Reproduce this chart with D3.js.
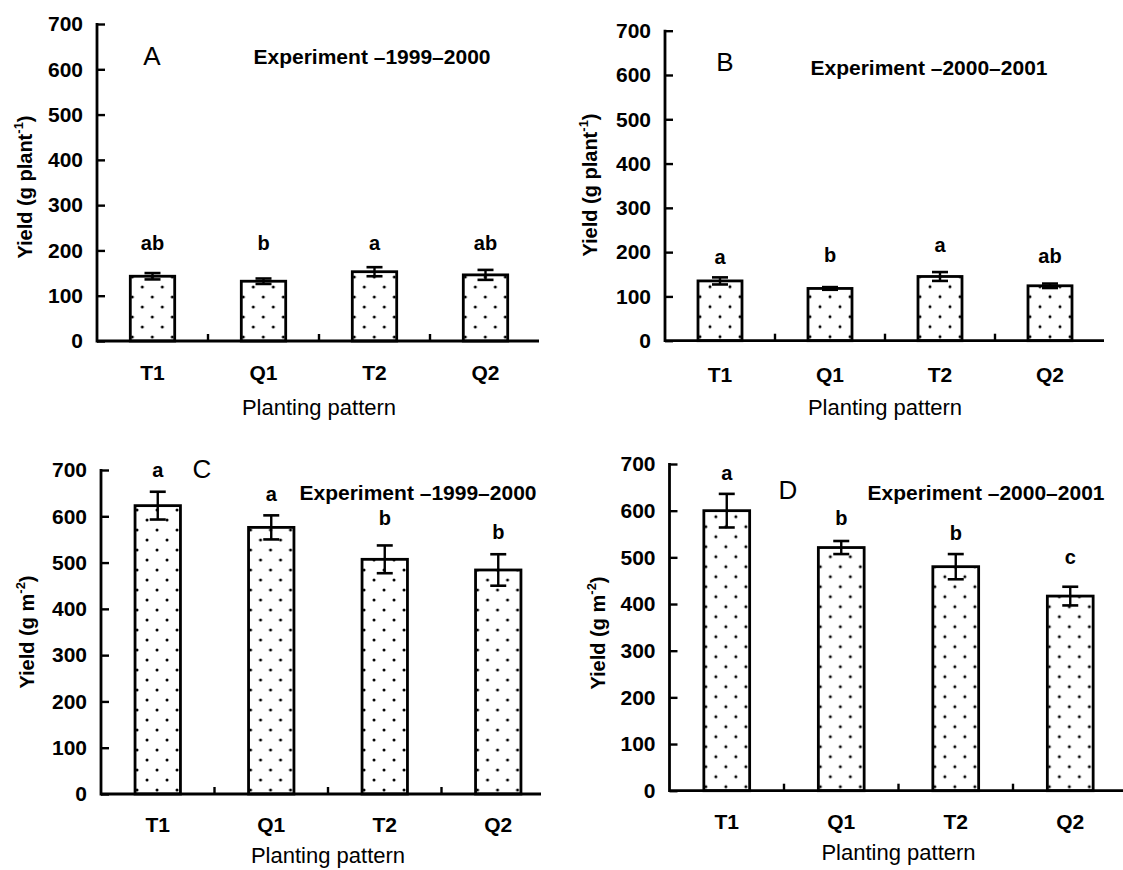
<!DOCTYPE html>
<html>
<head>
<meta charset="utf-8">
<script src="https://cdn.jsdelivr.net/npm/d3@7"></script>
<style>
  html, body { margin: 0; padding: 0; background: #fff; }
  svg { display: block; }
  text { font-family: "Liberation Sans", Arial, sans-serif; fill: #000; }
</style>
</head>
<body>
<svg id="chart" width="1123" height="870"></svg>
<script>
// ---------------- DATA ----------------
const categories = ["T1", "Q1", "T2", "Q2"];
const yTickValues = [0, 100, 200, 300, 400, 500, 600, 700];
const yDomain = [0, 700];

const meansA = [143, 132, 153, 146];
const errA = [7, 6, 10, 11];
const lettersA = ["ab", "b", "a", "ab"];
const letterPosA = [216, 216, 216, 216];

const meansB = [135, 118, 145, 124];
const errB = [8, 3, 10, 5];
const lettersB = ["a", "b", "a", "ab"];
const letterPosB = [190, 193, 216, 191];

const meansC = [623, 576, 507, 484];
const errC = [30, 26, 30, 34];
const lettersC = ["a", "a", "b", "b"];
const letterPosC = [701, 648, 597, 567];

const meansD = [600, 521, 480, 417];
const errD = [36, 14, 27, 20];
const lettersD = ["a", "b", "b", "c"];
const letterPosD = [680, 584, 553, 501];

const panelNames = ["A", "B", "C", "D"];
const experimentTexts = ["Experiment \u20131999\u20132000", "Experiment \u20132000\u20132001",
                         "Experiment \u20131999\u20132000", "Experiment \u20132000\u20132001"];
const yTitleBase = ["Yield (g plant", "Yield (g plant", "Yield (g m", "Yield (g m"];
const yTitleSup = ["-1", "-1", "-2", "-2"];
const xTitle = "Planting pattern";

// ---------------- LAYOUT ----------------
const layout = [
  { x0: 97,    x1: 541,    yTop: 24,   yBot: 341,   axisEnd: 539,
    name: [152, 56], exp: [372, 57], ytitle: [25, 187], catY: 373, xtitleY: 407 },
  { x0: 665,   x1: 1105,   yTop: 30.7, yBot: 340.7, axisEnd: 1104,
    name: [725, 62], exp: [929, 68], ytitle: [590, 185], catY: 375, xtitleY: 407 },
  { x0: 101,   x1: 555,    yTop: 470,  yBot: 794,   axisEnd: 541,
    name: [202, 469], exp: [418, 493], ytitle: [27, 632], catY: 825, xtitleY: 855 },
  { x0: 669.5, x1: 1127.5, yTop: 464,  yBot: 790.7, axisEnd: 1123,
    name: [788, 490], exp: [986, 493], ytitle: [598, 633], catY: 822, xtitleY: 852 }
];

const panels = [
  { means: meansA, err: errA, letters: lettersA, letterPos: letterPosA },
  { means: meansB, err: errB, letters: lettersB, letterPos: letterPosB },
  { means: meansC, err: errC, letters: lettersC, letterPos: letterPosC },
  { means: meansD, err: errD, letters: lettersD, letterPos: letterPosD }
];

const svg = d3.select("#chart");
const defs = svg.append("defs");

panels.forEach((p, pi) => {
  const L = layout[pi];
  const g = svg.append("g");

  const x = d3.scaleBand().domain(categories).range([L.x0, L.x1])
    .paddingInner(0.6).paddingOuter(0.3);
  const y = d3.scaleLinear().domain(yDomain).range([L.yBot, L.yTop]);

  // bars with dotted pattern
  categories.forEach((c, i) => {
    const bx = x(c), by = y(p.means[i]), bw = x.bandwidth(), bh = y(0) - by;
    const pid = `dots_${pi}_${i}`;
    const pat = defs.append("pattern").attr("id", pid)
      .attr("patternUnits", "userSpaceOnUse").attr("width", 20).attr("height", 20)
      .attr("patternTransform", `translate(${bx + 2},${y(0) - 4})`);
    pat.append("rect").attr("width", 20).attr("height", 20).attr("fill", "#fff");
    [[0, 0], [10, 10], [20, 0], [0, 20], [20, 20]].forEach(([cx, cy]) =>
      pat.append("circle").attr("cx", cx).attr("cy", cy).attr("r", 1.5).attr("fill", "#000"));
    g.append("rect").attr("x", bx).attr("y", by).attr("width", bw).attr("height", bh)
      .attr("fill", `url(#${pid})`).attr("stroke", "#000").attr("stroke-width", 2.8);
  });

  // error bars
  const cap = 8;
  categories.forEach((c, i) => {
    const cx = x(c) + x.bandwidth() / 2;
    const yt = y(p.means[i] + p.err[i]), yb = y(p.means[i] - p.err[i]);
    g.append("line").attr("x1", cx).attr("x2", cx).attr("y1", yt).attr("y2", yb)
      .attr("stroke", "#000").attr("stroke-width", 2.4);
    [yt, yb].forEach(yy => g.append("line").attr("x1", cx - cap).attr("x2", cx + cap)
      .attr("y1", yy).attr("y2", yy).attr("stroke", "#000").attr("stroke-width", 2.6));
  });

  // significance letters
  categories.forEach((c, i) => {
    g.append("text").attr("x", x(c) + x.bandwidth() / 2).attr("y", y(p.letterPos[i]))
      .attr("dy", "0.35em").attr("text-anchor", "middle")
      .attr("font-size", 20).attr("font-weight", "bold").text(p.letters[i]);
  });

  // y axis
  const yAxis = d3.axisLeft(y).tickValues(yTickValues).tickSize(-8).tickPadding(14)
    .tickFormat(d3.format("d"));
  const ya = g.append("g").attr("transform", `translate(${L.x0},0)`).call(yAxis);
  ya.select(".domain").remove();
  ya.selectAll(".tick line").attr("stroke", "#000").attr("stroke-width", 2.4);
  ya.selectAll(".tick text").attr("font-size", 21).attr("font-weight", "bold")
    .attr("font-family", "'Liberation Sans', Arial, sans-serif").attr("fill", "#000");
  g.append("line").attr("x1", L.x0).attr("x2", L.x0).attr("y1", y(700) - 1).attr("y2", y(0) + 1.4)
    .attr("stroke", "#000").attr("stroke-width", 2.8);

  // x axis
  const xAxis = d3.axisBottom(x).tickSize(0).tickPadding(22);
  const xa = g.append("g").attr("transform", `translate(0,${y(0)})`).call(xAxis);
  xa.select(".domain").remove();
  xa.selectAll(".tick text").remove();
  g.append("line").attr("x1", L.x0).attr("x2", L.axisEnd).attr("y1", y(0)).attr("y2", y(0))
    .attr("stroke", "#000").attr("stroke-width", 2.8);
  // category boundary ticks
  const step = x.step();
  categories.slice(0, -1).forEach(c => {
    const bx = x(c) + x.bandwidth() / 2 + step / 2;
    g.append("line").attr("x1", bx).attr("x2", bx).attr("y1", y(0)).attr("y2", y(0) - 7)
      .attr("stroke", "#000").attr("stroke-width", 2.4);
  });
  categories.forEach(c => {
    g.append("text").attr("x", x(c) + x.bandwidth() / 2).attr("y", L.catY).attr("dy", "0.35em")
      .attr("text-anchor", "middle").attr("font-size", 21).attr("font-weight", "bold").text(c);
  });

  // x title
  g.append("text").attr("x", (L.x0 + L.x1) / 2).attr("y", L.xtitleY).attr("dy", "0.35em")
    .attr("text-anchor", "middle").attr("font-size", 22).text(xTitle);

  // y title
  const yt = g.append("text")
    .attr("transform", `translate(${L.ytitle[0]},${L.ytitle[1]}) rotate(-90)`)
    .attr("text-anchor", "middle").attr("dy", "0.35em")
    .attr("font-size", 20).attr("font-weight", "bold");
  yt.append("tspan").text(yTitleBase[pi]);
  yt.append("tspan").attr("font-size", 13).attr("dy", "-0.7em").text(yTitleSup[pi]);
  yt.append("tspan").attr("dy", "0.45em").text(")");

  // panel name & experiment label
  g.append("text").attr("x", L.name[0]).attr("y", L.name[1]).attr("dy", "0.35em")
    .attr("text-anchor", "middle").attr("font-size", 26).text(panelNames[pi]);
  g.append("text").attr("x", L.exp[0]).attr("y", L.exp[1]).attr("dy", "0.35em")
    .attr("text-anchor", "middle").attr("font-size", 21).attr("font-weight", "bold")
    .text(experimentTexts[pi]);
});
</script>
</body>
</html>
